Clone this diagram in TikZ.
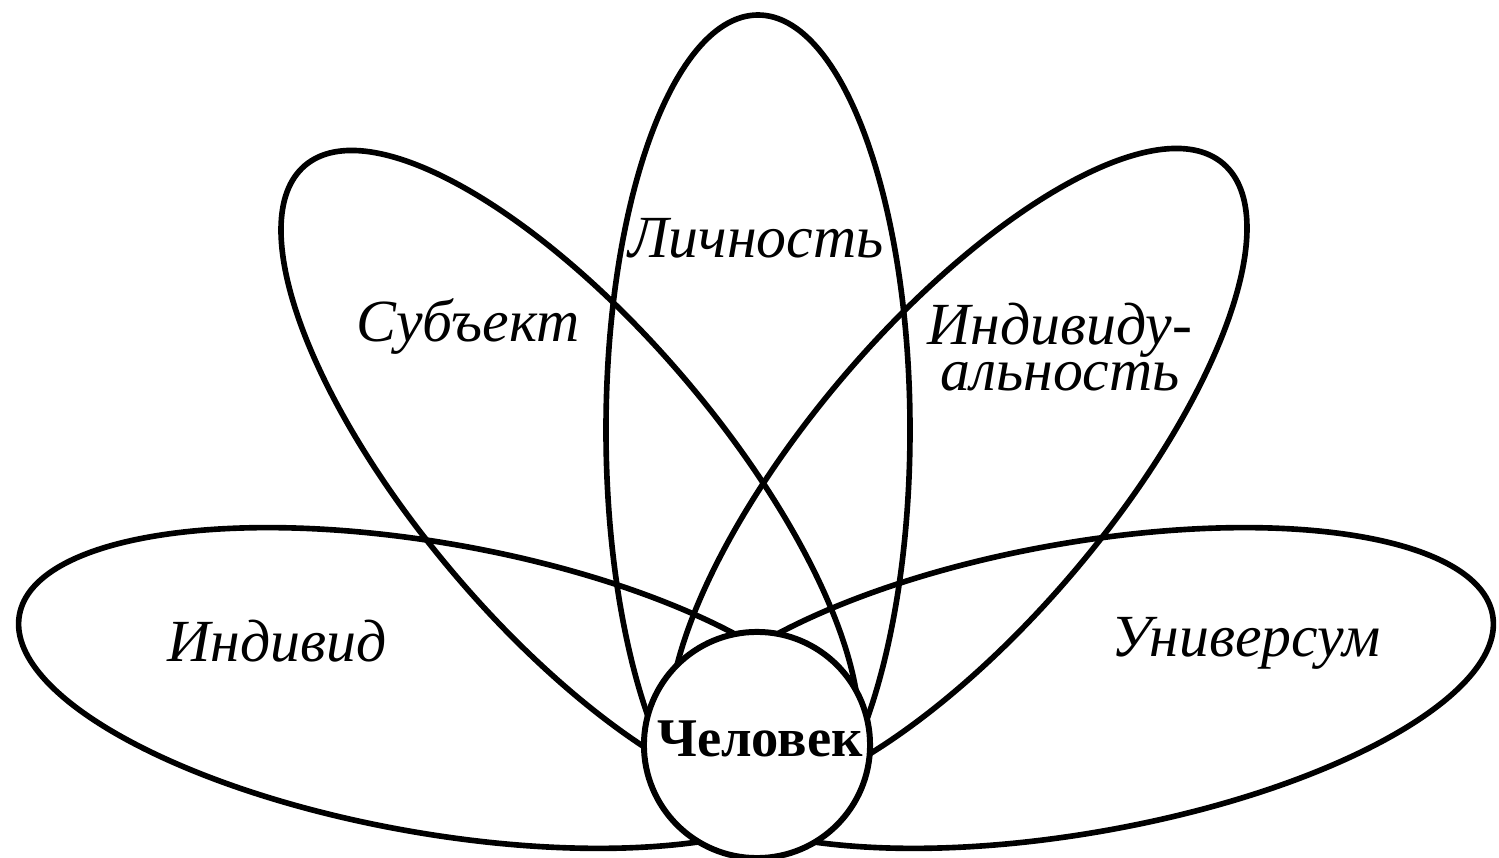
\documentclass[tikz,border=0pt]{standalone}
\usepackage{fontspec}
\setmainfont{Liberation Serif}
\usetikzlibrary{positioning}

\begin{document}
\begin{tikzpicture}[x=0.01cm,y=-0.01cm,
  petal/.style={draw=black,line width=1.6pt},
  word/.style={font=\fontsize{17}{13}\selectfont\itshape,anchor=base,inner sep=0pt,align=center},
  hub/.style={circle,draw=black,fill=white,line width=1.7pt,minimum size=2.26cm,inner sep=0pt}]
\useasboundingbox (0,0) rectangle (1499,858);
% petals
\draw[petal] (758,430) ellipse [x radius=152,y radius=415];
\draw[petal,rotate around={-10:(433,688)}] (433,688) ellipse [x radius=420,y radius=145];
\draw[petal,rotate around={10:(1079,688)}] (1079,688) ellipse [x radius=420,y radius=145];
\draw[petal,rotate around={-49.6:(570,477)}] (570,477) ellipse [x radius=409,y radius=151];
\draw[petal,rotate around={49.6:(958,475)}] (958,475) ellipse [x radius=409,y radius=151];
% centre
\node[hub] (man) at (757,745) {};
\node[font=\fontsize{15.5}{18}\selectfont\bfseries,anchor=base,inner sep=0pt] (mantext) at (760,757) {Человек};

\node[word] (pers) at (756,258) {Личность};
\node[word] (subj) at (468,342) {Субъект};
\node[word,anchor=center] (indiv2) at (1060,347) {Индивиду-\\альность};
\node[word] (indiv) at (277,662) {Индивид};
\node[word] (univ) at (1246,657) {Универсум};
\end{tikzpicture}
\end{document}
